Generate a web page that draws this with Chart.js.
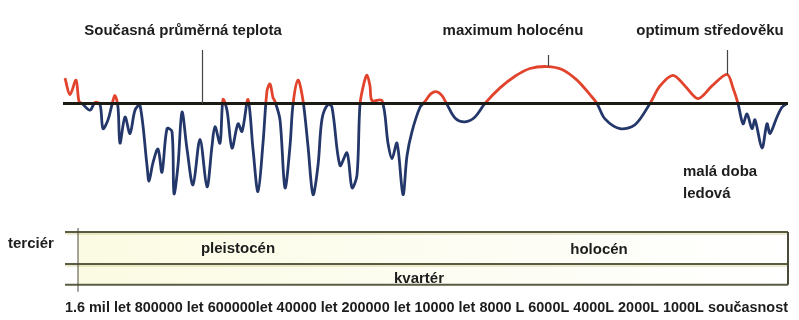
<!DOCTYPE html>
<html lang="cs">
<head>
<meta charset="utf-8">
<title>Vývoj teploty ve čtvrtohorách</title>
<script src="https://cdn.jsdelivr.net/npm/chart.js@4.4.1/dist/chart.umd.min.js"></script>
<style>
  html, body { margin: 0; padding: 0; background: #ffffff; }
  #wrap { width: 799px; height: 320px; position: relative; }
</style>
</head>
<body>
<div id="wrap"><canvas id="c" width="799" height="320"></canvas></div>
<script>
// Poloha na časové ose (nelineární měřítko) a odchylka od současné průměrné teploty
const positions = [
  0, 5, 11, 14, 17, 25, 30, 35, 38, 43, 48, 50, 53, 55, 60, 65, 70, 75, 82, 84,
  88, 93, 97, 102, 107, 109, 113, 117, 122, 128, 135, 142, 147, 150, 155, 158, 162, 167, 173, 177,
  183, 188, 193, 198, 202, 205, 208, 210, 215, 220, 225, 228, 233, 238, 243, 248, 253, 257, 263, 267,
  275, 282, 287, 292, 295, 299, 302, 305, 307, 317, 323, 327, 332, 338, 342, 347, 355, 360, 366, 372,
  377, 382, 390, 400, 410, 420, 435, 450, 465, 482, 497, 512, 525, 532, 540, 555, 570, 585, 595, 608,
  620, 633, 647, 662, 668, 673, 678, 682, 687, 690, 697, 702, 705, 712, 717, 722
];
const deviations = [
  2.6, 0.9, 2.4, 0.2, 0, -0.7, 0.1, -0.1, -2.6, -1.7, 0.3, 0.8, -0.4, -4.1, -1.4, -3.1, -0.7, -0.2, -6.4, -8.0,
  -6.1, -4.7, -7.1, -2.6, -2.9, -9.3, -6.4, -0.9, -4.7, -8.4, -3.7, -8.6, -4.4, -2.4, -4.1, 0.4, -0.7, -4.6, -2.1, -2.9,
  0.4, -4.7, -9.1, -4.1, 1.3, 2.0, 0.6, 0.2, -1.7, -8.7, -4.4, -0.1, 2.4, 0.3, -4.4, -9.4, -6.4, -1.6, -0.1, -0.4,
  -6.4, -5.1, -8.7, -7.4, -0.1, 2.1, 2.9, 1.8, 0.3, 0.3, -4.1, -5.7, -4.1, -9.4, -5.4, -2.9, -0.4, 0.2, 1.0, 1.2,
  0.8, -0.1, -1.5, -1.9, -1.4, 0, 1.6, 2.8, 3.6, 3.8, 3.5, 2.4, 0.9, 0, -1.6, -2.6, -2.2, 0, 1.8, 2.9,
  1.8, 0.5, 1.8, 3.0, 1.6, 0, -2.1, -1.1, -2.6, -1.7, -4.6, -2.1, -3.1, -1.4, -0.4, 0
];

// Popisky časové osy
const timeTicks = ['1.6 mil let', '800000 let', '600000let', '40000 let', '200000 let', '10000 let',
                   '8000 L', '6000L', '4000L', '2000L', '1000L', 'současnost'];

// Období pod grafem
const periodTertiary = 'terciér';
const periodEpochs = ['pleistocén', 'holocén'];
const periodQuaternary = 'kvartér';

// Popisky význačných období: text, poloha na ose, hodnota, kam míří odkazová čárka
const noteTexts = ['Současná průměrná teplota', 'maximum holocénu', 'optimum středověku'];
const notePositions = [137, 483, 662];
const noteValues = [0, 3.8, 3.0];
const coldNote = ['malá doba', 'ledová'];

const WARM = '#e2432c';
const COLD = '#24376a';
const INK = '#1d1d1d';
const BOLD = 'bold 15px "Liberation Sans", Arial, sans-serif';

const points = positions.map((x, i) => ({ x, y: deviations[i] }));

function splitColour(context) {
  const chart = context.chart;
  const area = chart.chartArea;
  if (!area) return COLD;
  const zero = chart.scales.y.getPixelForValue(0);
  const f = Math.min(1, Math.max(0, (zero - area.top) / (area.bottom - area.top)));
  const g = chart.ctx.createLinearGradient(0, area.top, 0, area.bottom);
  g.addColorStop(0, WARM);
  g.addColorStop(f, WARM);
  g.addColorStop(f, COLD);
  g.addColorStop(1, COLD);
  return g;
}

// Tabulka geologických období a textové poznámky
const decorations = {
  id: 'decorations',
  beforeDatasetsDraw(chart) {
    const { ctx, chartArea } = chart;
    const left = chartArea.left, right = chartArea.right;
    const yTop = 232, yMid = 264, yBot = chartArea.bottom;
    ctx.save();
    const bg = ctx.createLinearGradient(left, 0, right, 0);
    bg.addColorStop(0, '#fbfbe2');
    bg.addColorStop(0.55, '#fdfdf3');
    bg.addColorStop(1, '#ffffff');
    ctx.fillStyle = bg;
    ctx.fillRect(left + 13, yTop, right - left - 13, yBot - yTop);

    ctx.strokeStyle = '#5b5b44';
    ctx.lineWidth = 2;
    [yTop, yMid, yBot].forEach((y) => {
      ctx.beginPath(); ctx.moveTo(left, y); ctx.lineTo(right, y); ctx.stroke();
    });
    ctx.strokeStyle = 'rgba(205, 205, 140, 0.8)';
    ctx.lineWidth = 1;
    [yTop + 2, yMid + 2].forEach((y) => {
      ctx.beginPath(); ctx.moveTo(left, y); ctx.lineTo(right, y); ctx.stroke();
    });
    ctx.strokeStyle = '#4a4a3a';
    ctx.lineWidth = 1;
    ctx.beginPath(); ctx.moveTo(left + 13, yTop - 4); ctx.lineTo(left + 13, yBot + 7); ctx.stroke();
    ctx.lineWidth = 2;
    ctx.beginPath(); ctx.moveTo(right, yTop); ctx.lineTo(right, yBot); ctx.stroke();

    ctx.fillStyle = INK;
    ctx.font = BOLD;
    ctx.textBaseline = 'middle';
    ctx.textAlign = 'left';
    ctx.fillText(periodTertiary, 8, 244);
    ctx.textAlign = 'center';
    ctx.fillText(periodEpochs[0], 238, 249);
    ctx.fillText(periodEpochs[1], 599, 250);
    ctx.fillText(periodQuaternary, 419, 279);
    ctx.restore();
  },
  afterDatasetsDraw(chart) {
    const { ctx, scales } = chart;
    const x = scales.x, y = scales.y;
    const textCentres = [183, 513, 710];
    const leaderTops = [50, 55, 50];
    ctx.save();
    ctx.strokeStyle = '#444';
    ctx.lineWidth = 1.2;
    notePositions.forEach((p, i) => {
      const px = Math.round(x.getPixelForValue(p)) + 0.5;
      ctx.beginPath();
      ctx.moveTo(px, leaderTops[i]);
      ctx.lineTo(px, y.getPixelForValue(noteValues[i]));
      ctx.stroke();
    });
    ctx.fillStyle = INK;
    ctx.font = BOLD;
    ctx.textBaseline = 'middle';
    ctx.textAlign = 'center';
    noteTexts.forEach((t, i) => ctx.fillText(t, textCentres[i], 31));
    ctx.textAlign = 'left';
    ctx.fillText(coldNote[0], 683, 172);
    ctx.fillText(coldNote[1], 683, 194);
    ctx.restore();
  }
};

new Chart(document.getElementById('c'), {
  type: 'line',
  data: {
    datasets: [
      {
        label: 'současná průměrná teplota',
        data: [{ x: positions[0] - 2, y: 0 }, { x: positions[positions.length - 1] + 1, y: 0 }],
        borderColor: '#1b1b14',
        borderWidth: 3,
        pointRadius: 0,
        tension: 0,
        clip: false,
        order: 0
      },
      {
        label: 'teplotní odchylka',
        data: points,
        borderColor: splitColour,
        borderWidth: 2.8,
        pointRadius: 0,
        tension: 0.32,
        clip: false,
        order: 1
      }
    ]
  },
  options: {
    responsive: false,
    animation: false,
    events: [],
    layout: { padding: { left: 65, right: 11, top: 20, bottom: 3.6 } },
    plugins: { legend: { display: false }, tooltip: { enabled: false } },
    scales: {
      x: {
        type: 'linear',
        min: 0,
        max: 723,
        grid: { display: false },
        border: { display: false },
        ticks: { display: false },
        title: {
          display: true,
          text: timeTicks.join(' '),
          color: INK,
          font: { family: '"Liberation Sans", Arial, sans-serif', size: 14.7, weight: 'bold', lineHeight: 1.2 },
          padding: { top: 6, bottom: 0 }
        }
      },
      y: {
        display: false,
        min: -18.7,
        max: 8.6
      }
    }
  },
  plugins: [decorations]
});
</script>
</body>
</html>
